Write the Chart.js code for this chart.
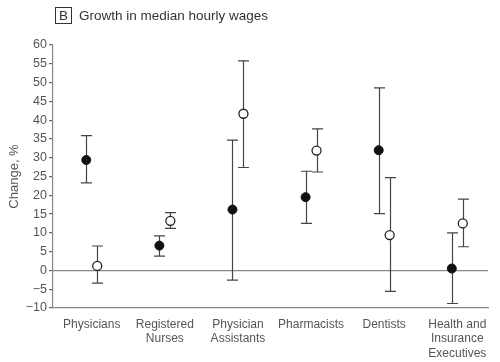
<!DOCTYPE html>
<html>
<head>
<meta charset="utf-8">
<script src="https://cdn.jsdelivr.net/npm/chart.js@4"></script>
<style>
  html, body { margin: 0; padding: 0; background: #fff; }
  #wrap { position: relative; width: 500px; height: 362px; }
  #title { position: absolute; left: 55px; top: 7px; font: 13.5px "Liberation Sans", Arial, sans-serif; color: #333; white-space: nowrap; }
  #title .box { display: inline-block; border: 1px solid #333; padding: 0 3px; line-height: 15px; margin-right: 7px; }
  canvas { position: absolute; left: 0; top: 0; }
</style>
</head>
<body>
<div id="wrap">
  <canvas id="chart" width="500" height="362"></canvas>
  <div id="title"><span class="box">B</span>Growth in median hourly wages</div>
</div>
<script>
// categories along the x axis
const categories = [
  ["Physicians"],
  ["Registered", "Nurses"],
  ["Physician", "Assistants"],
  ["Pharmacists"],
  ["Dentists"],
  ["Health and", "Insurance", "Executives"]
];

// filled markers
const filledValues = [29.4, 6.6, 16.2, 19.5, 32.0, 0.5];
const filledLow = [23.3, 3.8, -2.6, 12.5, 15.1, -8.8];
const filledHigh = [35.9, 9.2, 34.7, 26.4, 48.6, 10.0];

// open markers
const openValues = [1.2, 13.2, 41.7, 31.9, 9.4, 12.5];
const openLow = [-3.4, 11.2, 27.4, 26.2, -5.6, 6.3];
const openHigh = [6.5, 15.4, 55.8, 37.7, 24.7, 19.0];

const yTicks = [-10, -5, 0, 5, 10, 15, 20, 25, 30, 35, 40, 45, 50, 55, 60];

const shift = 0.075;
const font = { family: "'Liberation Sans', Arial, sans-serif", size: 12, lineHeight: 1.22 };

const filledData = filledValues.map((v, i) => ({ x: i - shift, y: v, lo: filledLow[i], hi: filledHigh[i] }));
const openData = openValues.map((v, i) => ({ x: i + shift, y: v, lo: openLow[i], hi: openHigh[i] }));

// whiskers drawn under the points
const errorBars = {
  id: "errorBars",
  beforeDatasetsDraw(chart) {
    const ctx = chart.ctx;
    const xs = chart.scales.x, ys = chart.scales.y;
    ctx.save();
    ctx.strokeStyle = "#444";
    ctx.lineWidth = 1.2;
    chart.data.datasets.forEach(ds => {
      ds.data.forEach(d => {
        const px = Math.round(xs.getPixelForValue(d.x)) + 0.5;
        const top = ys.getPixelForValue(d.hi);
        const bot = ys.getPixelForValue(d.lo);
        ctx.beginPath();
        ctx.moveTo(px, top); ctx.lineTo(px, bot);
        ctx.moveTo(px - 5.5, top); ctx.lineTo(px + 5.5, top);
        ctx.moveTo(px - 5.5, bot); ctx.lineTo(px + 5.5, bot);
        ctx.stroke();
      });
    });
    ctx.restore();
  }
};

new Chart(document.getElementById("chart").getContext("2d"), {
  type: "scatter",
  data: {
    datasets: [
      {
        data: filledData,
        pointRadius: 4.5,
        pointBackgroundColor: "#111",
        pointBorderColor: "#111",
        pointBorderWidth: 1
      },
      {
        data: openData,
        pointRadius: 4.5,
        pointBackgroundColor: "#fff",
        pointBorderColor: "#222",
        pointBorderWidth: 1.3
      }
    ]
  },
  options: {
    responsive: false,
    animation: false,
    layout: { padding: { top: 45, right: 12, left: 0, bottom: 0 } },
    plugins: {
      legend: { display: false },
      tooltip: { enabled: false }
    },
    scales: {
      x: {
        type: "linear",
        min: -0.53,
        max: 5.42,
        afterBuildTicks: scale => { scale.ticks = categories.map((_, i) => ({ value: i })); },
        afterFit: scale => { scale.height = 54; },
        ticks: {
          color: "#555",
          font: font,
          padding: 1,
          maxRotation: 0,
          autoSkip: false,
          callback: v => categories[v]
        },
        grid: { display: false },
        border: { display: true, color: "#888", width: 1.2 }
      },
      y: {
        min: -10,
        max: 60,
        afterBuildTicks: scale => { scale.ticks = yTicks.map(v => ({ value: v })); },
        afterFit: scale => { scale.width = 53; },
        ticks: {
          color: "#555",
          font: { family: font.family, size: 12.5 },
          padding: 2,
          callback: v => v < 0 ? "\u2212" + Math.abs(v) : String(v)
        },
        grid: {
          drawOnChartArea: true,
          color: c => c.tick && c.tick.value === 0 ? "#888" : "transparent",
          lineWidth: 1.2,
          tickColor: "#666",
          tickLength: 4
        },
        border: { display: true, color: "#888", width: 1.2 },
        title: {
          display: true,
          text: "Change, %",
          color: "#555",
          font: { family: font.family, size: 13 },
          padding: { top: 7, bottom: 0 }
        }
      }
    }
  },
  plugins: [errorBars]
});
</script>
</body>
</html>
